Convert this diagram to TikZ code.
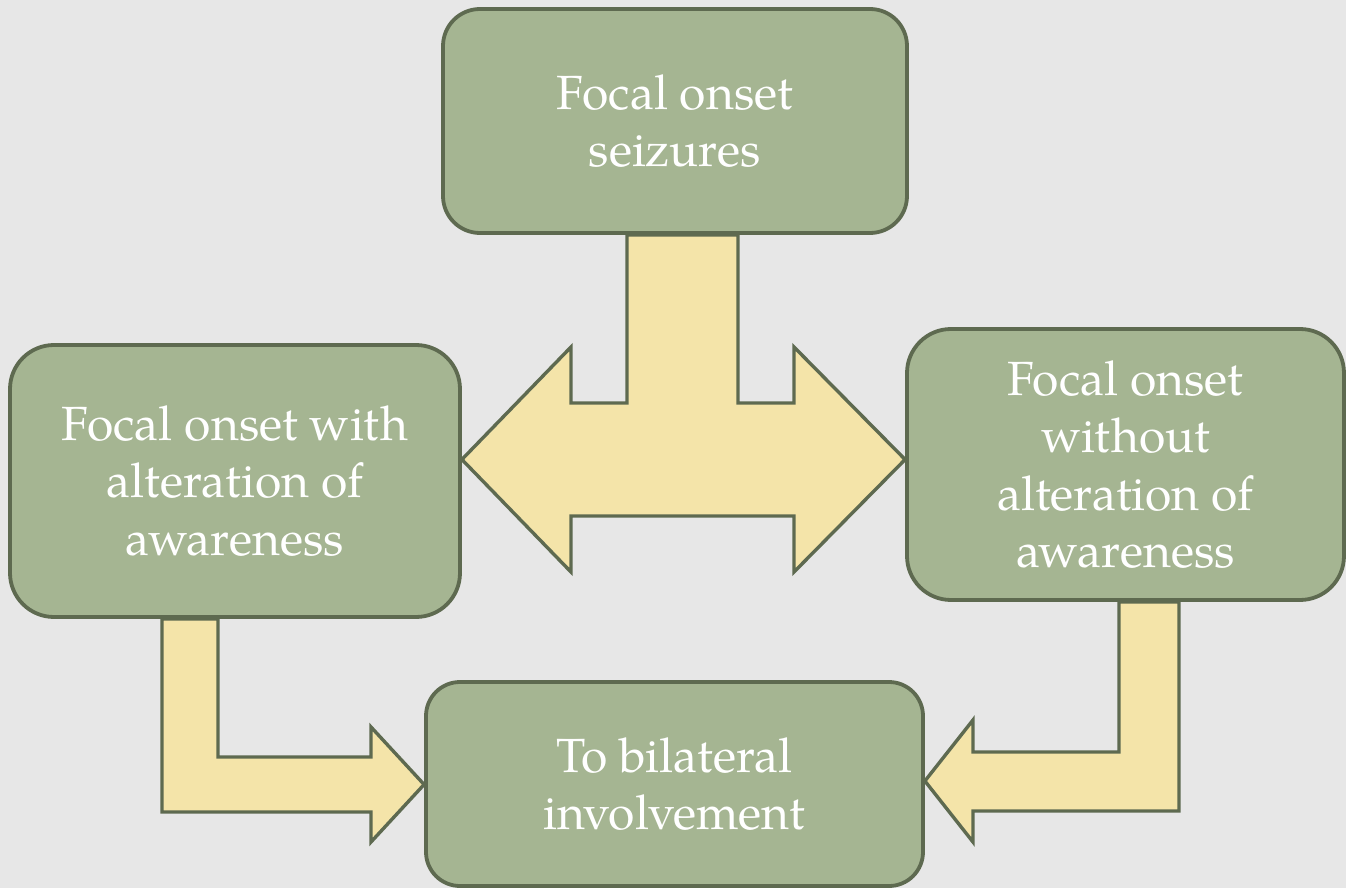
\documentclass[tikz,border=0pt]{standalone}
\usepackage{fontspec}
\setmainfont{texgyrepagella}[Extension=.otf,UprightFont=*-regular,BoldFont=*-bold,ItalicFont=*-italic,BoldItalicFont=*-bolditalic]
\usetikzlibrary{calc}
\definecolor{bgc}{RGB}{231,231,231}
\definecolor{boxfill}{RGB}{165,181,146}
\definecolor{edgec}{RGB}{94,106,80}
\definecolor{arrowfill}{RGB}{244,228,169}
\pgfdeclarelayer{bg}
\pgfdeclarelayer{arw}
\pgfsetlayers{bg,arw,main}
\begin{document}
\begin{tikzpicture}[x=0.5pt,y=-0.5pt,
  box/.style={draw=edgec,fill=boxfill,line width=1.9pt,text=white,align=center,inner sep=0pt,
    font=\fontsize{24}{28.75}\selectfont},
  blockarrow/.style={draw=edgec,fill=arrowfill,line width=1.7pt,line join=miter}]
\begin{pgfonlayer}{bg}
\fill[bgc] (0,0) rectangle (1346,888);
\end{pgfonlayer}
\useasboundingbox (0,0) rectangle (1346,888);

\node[box,minimum width=232pt,minimum height=112pt,rounded corners=18.5pt] (top) at (675,121) {Focal onset\\seizures};
\node[box,minimum width=225pt,minimum height=136pt,rounded corners=22pt] (left) at (235,481) {Focal onset with\\alteration of\\awareness};
\node[box,minimum width=218.5pt,minimum height=135.5pt,rounded corners=22pt] (right) at (1125.5,464.5) {Focal onset\\without\\alteration of\\awareness};
\node[box,minimum width=248.5pt,minimum height=102pt,rounded corners=17pt] (bottom) at (674.5,784) {To bilateral\\involvement};

\begin{pgfonlayer}{arw}
\draw[blockarrow] (627,0 |- top.south) -- (627,403) -- (571,403) -- (571,347)
  -- (left.east |- 0,459.5) -- (571,572) -- (571,516) -- (794,516) -- (794,572)
  -- (right.west |- 0,459.5) -- (794,347) -- (794,403) -- (738,403)
  -- (738,0 |- top.south) -- cycle;
\draw[blockarrow] (162,0 |- left.south) -- (162,812) -- (371,812) -- (371,842)
  -- (bottom.west |- 0,784.5) -- (371,727) -- (371,757) -- (218,757)
  -- (218,0 |- left.south) -- cycle;
\draw[blockarrow] (1179,0 |- right.south) -- (1179,811) -- (973,811) -- (973,842)
  -- (bottom.east |- 0,781) -- (973,720) -- (973,752) -- (1119,752)
  -- (1119,0 |- right.south) -- cycle;
\end{pgfonlayer}
\end{tikzpicture}
\end{document}
